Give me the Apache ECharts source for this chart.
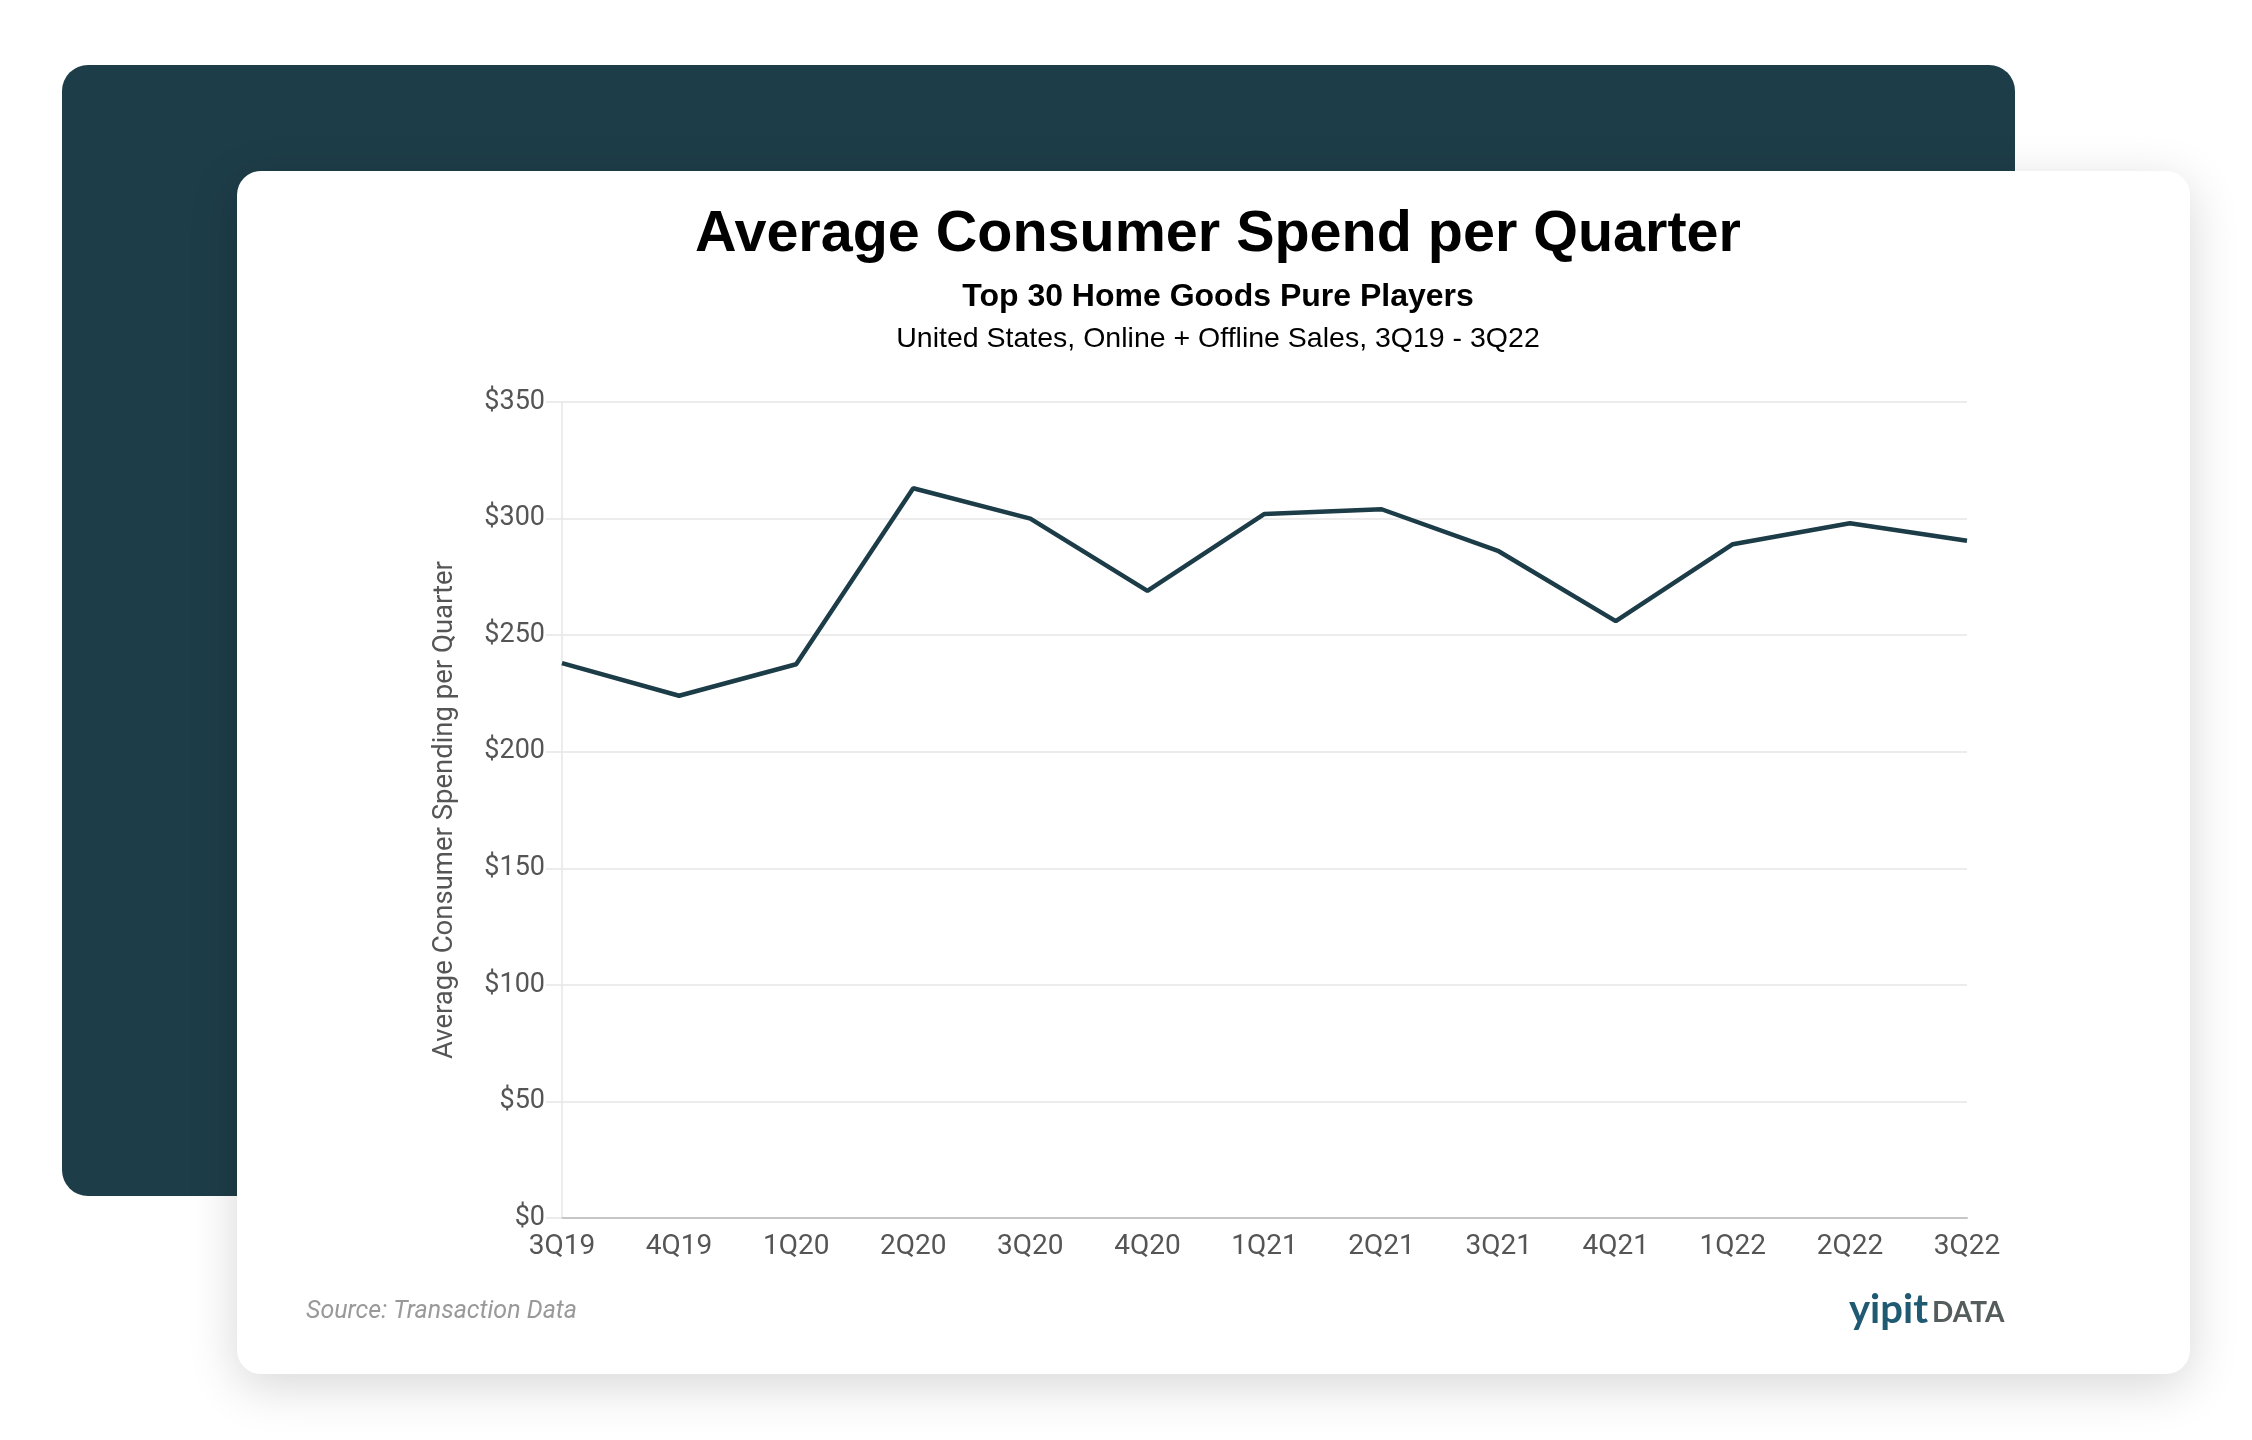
<!DOCTYPE html>
<html>
<head>
<meta charset="utf-8">
<script src="https://cdn.jsdelivr.net/npm/echarts@6/dist/echarts.min.js"></script>
<style>
  html, body { margin: 0; padding: 0; background: #fff; }
  .page { position: relative; width: 2252px; height: 1440px; overflow: hidden; }
  .backdrop {
    position: absolute; left: 62px; top: 65px; width: 1953px; height: 1131px;
    background: #1d3d48; border-radius: 26px;
  }
  .card {
    position: absolute; left: 237px; top: 171px; width: 1953px; height: 1203px;
    background: #fff; border-radius: 24px;
    box-shadow: 0 12px 50px rgba(0, 0, 0, 0.16);
  }
  .chart { position: absolute; left: 0; top: 0; width: 2252px; height: 1440px; }
</style>
</head>
<body>
<div class="page">
  <div class="backdrop"></div>
  <div class="card"></div>
  <div class="chart" id="chart"></div>
</div>
<script>
// quarters on the x axis
var quarters = ['3Q19', '4Q19', '1Q20', '2Q20', '3Q20', '4Q20', '1Q21', '2Q21', '3Q21', '4Q21', '1Q22', '2Q22', '3Q22'];
// average consumer spend per quarter ($)
var spend = [238, 224, 237.5, 313, 300, 269, 302, 304, 286, 256, 289, 298, 290.5];
// y axis range
var yMin = 0;
var yMax = 350;
var yStep = 50;

var chart = echarts.init(document.getElementById('chart'));
var labelColor = '#555';
var option = {
  backgroundColor: 'transparent',
  animation: false,
  title: [
    {
      text: 'Average Consumer Spend per Quarter',
      left: 1213, top: 201, textAlign: 'center',
      textStyle: { fontFamily: 'Liberation Sans', fontWeight: 'bold', fontSize: 57.5, color: '#000' }
    },
    {
      text: 'Top 30 Home Goods Pure Players',
      left: 1213, top: 276, textAlign: 'center',
      textStyle: { fontFamily: 'Liberation Sans', fontWeight: 'bold', fontSize: 32, color: '#000' }
    },
    {
      text: 'United States, Online + Offline Sales, 3Q19 - 3Q22',
      left: 1213, top: 320, textAlign: 'center',
      textStyle: { fontFamily: 'Liberation Sans', fontWeight: 'normal', fontSize: 28.5, color: '#000' }
    }
  ],
  grid: { left: 562, right: 285, top: 402, bottom: 222 },
  xAxis: {
    type: 'category',
    data: quarters,
    boundaryGap: false,
    axisLine: { show: true, lineStyle: { color: '#c6c6c6', width: 2 } },
    axisTick: { show: false },
    axisLabel: {
      interval: 0, margin: 15,
      fontFamily: 'Roboto', fontSize: 28, color: labelColor
    },
    splitLine: { show: false }
  },
  yAxis: {
    type: 'value',
    min: yMin, max: yMax, interval: yStep,
    name: 'Average Consumer Spending per Quarter',
    nameLocation: 'middle',
    nameGap: 103,
    nameTextStyle: { fontFamily: 'Roboto', fontSize: 27.5, color: labelColor },
    axisLine: { show: true, lineStyle: { color: '#e6e6e6', width: 1.5 } },
    axisTick: { show: true, length: 16, lineStyle: { color: '#e6e6e6', width: 1.5 } },
    axisLabel: {
      margin: 17,
      fontFamily: 'Roboto', fontSize: 27, color: labelColor,
      formatter: function (v) { return '$' + v; }
    },
    splitLine: { show: true, lineStyle: { color: '#e6e6e6', width: 1.5 } }
  },
  series: [
    {
      type: 'line',
      data: spend,
      showSymbol: false,
      symbol: 'none',
      lineStyle: { color: '#1c3c48', width: 4.5 },
      z: 3
    }
  ],
  graphic: [
    {
      type: 'text', left: 306, top: 1299,
      style: {
        text: 'Source: Transaction Data',
        font: 'italic 25px Roboto', fill: '#999'
      }
    },
    {
      type: 'text', x: 1849, y: 1310,
      style: {
        text: 'yipit', font: 'bold 40px Lato', fill: '#1f5a72',
        verticalAlign: 'middle'
      }
    },
    {
      type: 'text', x: 1932, y: 1313,
      style: {
        text: 'DATA', font: 'bold 28px Lato', fill: '#555c5d',
        verticalAlign: 'middle'
      }
    }
  ]
};
chart.setOption(option);
</script>
</body>
</html>
